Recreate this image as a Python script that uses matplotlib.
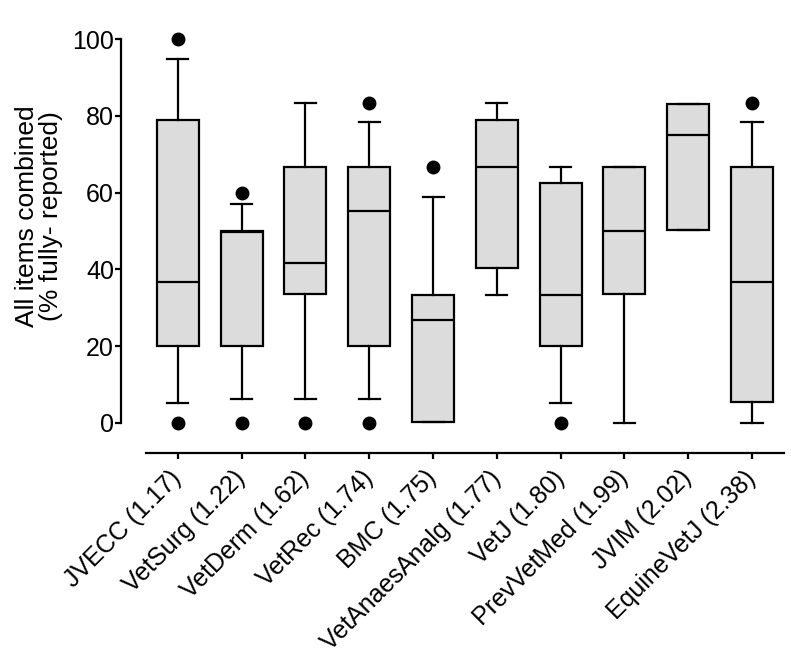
import matplotlib
matplotlib.use("Agg")
import matplotlib.pyplot as plt

plt.rcParams['font.family'] = ['Liberation Sans', 'DejaVu Sans']

# journal labels (impact factor)
journals = ["JVECC (1.17)", "VetSurg (1.22)", "VetDerm (1.62)", "VetRec (1.74)",
            "BMC (1.75)", "VetAnaesAnalg (1.77)", "VetJ (1.80)", "PrevVetMed (1.99)",
            "JVIM (2.02)", "EquineVetJ (2.38)"]

# box stats (% fully reported)
q1 =     [20.0, 20.0, 33.5, 20.0,  0.3, 40.3, 20.0, 33.5, 50.2,  5.5]
med =    [36.7, 49.7, 41.7, 55.1, 26.8, 66.8, 33.4, 50.0, 75.0, 36.7]
q3 =     [79.0, 50.0, 66.6, 66.6, 33.2, 79.0, 62.4, 66.6, 83.1, 66.6]
whislo = [ 5.2,  6.2,  6.2,  6.2,  0.3, 33.4,  5.2,  0.0, 50.2,  0.0]
whishi = [94.9, 57.1, 83.3, 78.3, 58.8, 83.3, 66.8, 66.6, 83.1, 78.3]
fliers = [[0, 100], [0, 60], [0], [0, 83.3], [66.8], [], [0], [], [], [83.3]]

stats = []
for i in range(len(journals)):
    stats.append(dict(q1=q1[i], med=med[i], q3=q3[i], whislo=whislo[i],
                      whishi=whishi[i], fliers=fliers[i], label=journals[i]))

fig = plt.figure(figsize=(7.91, 6.63), dpi=100)
ax = fig.add_axes([0.153, 0.3167, 0.838, 0.638])

lw = 1.6
ax.bxp(stats, positions=range(1, len(journals) + 1), widths=0.66,
       patch_artist=True,
       boxprops=dict(facecolor='#dcdcdc', edgecolor='black', linewidth=lw),
       medianprops=dict(color='black', linewidth=lw),
       whiskerprops=dict(color='black', linewidth=lw),
       capprops=dict(color='black', linewidth=lw),
       flierprops=dict(marker='o', markerfacecolor='black', markeredgecolor='black',
                       markersize=9))

for ln in ax.lines:
    ln.set_clip_on(False)

ax.set_xlim(0.109, 10.5)
ax.set_ylim(-7.9, 102.4)

ax.spines['top'].set_visible(False)
ax.spines['right'].set_visible(False)
ax.spines['left'].set_bounds(0, 100)
ax.spines['bottom'].set_bounds(0.5, 10.5)
ax.spines['left'].set_linewidth(lw)
ax.spines['bottom'].set_linewidth(lw)

ax.set_yticks([0, 20, 40, 60, 80, 100])
ax.tick_params(axis='y', labelsize=18, length=4, width=lw, pad=1)
ax.tick_params(axis='x', labelsize=18, length=4.5, width=lw, pad=11)
ax.set_xticks(range(1, len(journals) + 1))
ax.set_xticklabels(journals, rotation=45, ha='right', va='center',
                   rotation_mode='anchor')

ax.set_ylabel("All items combined\n(% fully- reported)", fontsize=19, linespacing=1.0)
ax.yaxis.set_label_coords(-0.0875, 0.56)

fig.savefig("out.png", dpi=100)
